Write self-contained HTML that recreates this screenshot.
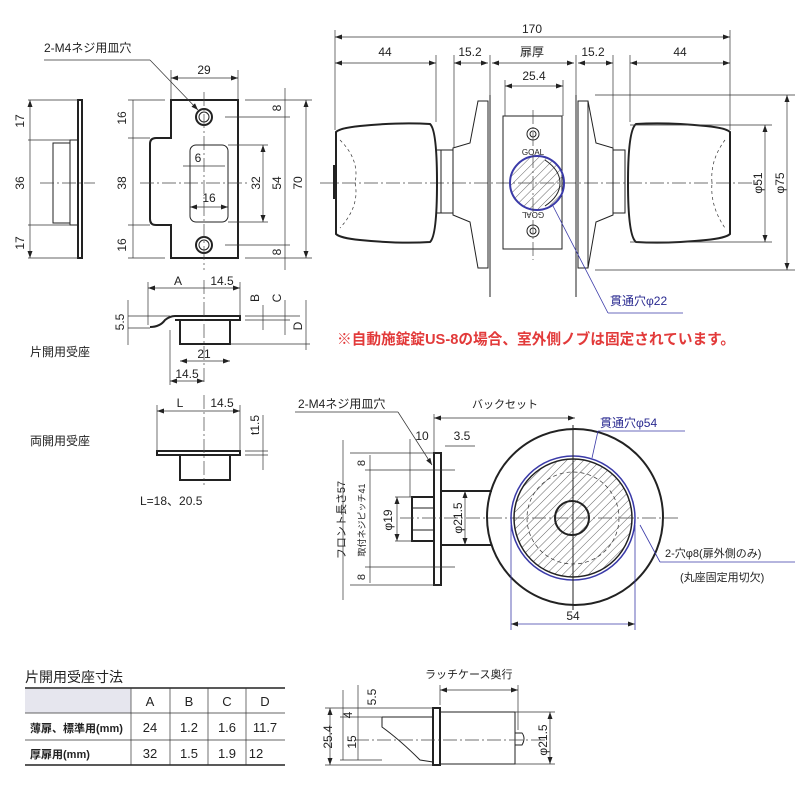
<!DOCTYPE html>
<html><head><meta charset="utf-8"><style>
html,body{margin:0;padding:0;background:#fff}
svg{display:block}
text{font-family:"Liberation Sans","Noto Sans CJK JP",sans-serif;fill:#222}
.l{stroke:#222;stroke-width:1;fill:none}
.t{stroke:#222;stroke-width:2;fill:none}
.c{stroke:#444;stroke-width:.7;fill:none;stroke-dasharray:14 3 2 3}
.d{stroke:#333;stroke-width:.7;fill:none}
.b{stroke:#3a3aa8;stroke-width:1.5;fill:none}
</style></head><body>
<svg width="800" height="800" viewBox="0 0 800 800" xmlns="http://www.w3.org/2000/svg">
<defs>
<marker id="a" markerUnits="userSpaceOnUse" markerWidth="7" markerHeight="5" refX="7" refY="2.5" orient="auto-start-reverse"><path d="M0,0 L7,2.5 L0,5" fill="#222"/></marker>
<pattern id="h" width="6" height="6" patternUnits="userSpaceOnUse" patternTransform="rotate(45)"><line x1="0" y1="0" x2="0" y2="6" stroke="#666" stroke-width="1"/></pattern>
</defs>

<!-- side plate top left -->
<g>
<rect x="78" y="100" width="4" height="158" class="t"/>
<rect x="70" y="140" width="8" height="85" class="l"/>
<rect x="53" y="143" width="17" height="80" class="l"/>
<line x1="28" y1="100" x2="78" y2="100" class="d"/><line x1="28" y1="140" x2="70" y2="140" class="d"/>
<line x1="28" y1="225" x2="70" y2="225" class="d"/><line x1="28" y1="258" x2="78" y2="258" class="d"/>
<line x1="30" y1="100" x2="30" y2="258" class="d" marker-start="url(#a)" marker-end="url(#a)"/>
<line x1="40" y1="183" x2="95" y2="183" class="c"/>
<text transform="translate(24,121) rotate(-90)" font-size="12" text-anchor="middle">17</text>
<text transform="translate(24,183) rotate(-90)" font-size="12" text-anchor="middle">36</text>
<text transform="translate(24,243) rotate(-90)" font-size="12" text-anchor="middle">17</text>
</g>

<!-- strike plate front -->
<g>
<path d="M171,100 H238 V258 H171 V225 H156 Q150,225 150,219 V144 Q150,138 156,138 H171 Z" class="t"/>
<rect x="190" y="145" width="38" height="77" rx="6" class="l"/>
<circle cx="204" cy="117" r="8" class="t"/><circle cx="204" cy="117" r="5" class="l"/>
<circle cx="204" cy="245" r="8" class="t"/><circle cx="204" cy="245" r="5" class="l"/>
<line x1="204" y1="92" x2="204" y2="270" class="c"/>
<line x1="140" y1="183" x2="250" y2="183" class="c"/>
<line x1="171" y1="70" x2="171" y2="100" class="d"/><line x1="238" y1="70" x2="238" y2="100" class="d"/>
<line x1="171" y1="78" x2="238" y2="78" class="d" marker-start="url(#a)" marker-end="url(#a)"/>
<text x="204" y="74" font-size="12" text-anchor="middle">29</text>
<text x="44" y="52" font-size="12">2-M4ネジ用皿穴</text>
<line x1="44" y1="60" x2="150" y2="60" class="d"/><line x1="150" y1="60" x2="198" y2="110" class="d" marker-end="url(#a)"/>
<line x1="128" y1="100" x2="165" y2="100" class="d"/><line x1="128" y1="138" x2="150" y2="138" class="d"/>
<line x1="128" y1="225" x2="150" y2="225" class="d"/><line x1="128" y1="258" x2="165" y2="258" class="d"/>
<line x1="133" y1="100" x2="133" y2="258" class="d"/>
<text transform="translate(126,118) rotate(-90)" font-size="12" text-anchor="middle">16</text>
<text transform="translate(126,183) rotate(-90)" font-size="12" text-anchor="middle">38</text>
<text transform="translate(126,245) rotate(-90)" font-size="12" text-anchor="middle">16</text>
<line x1="183" y1="166" x2="225" y2="166" class="d"/>
<text x="198" y="162" font-size="12" text-anchor="middle">6</text>
<line x1="190" y1="207" x2="228" y2="207" class="d" marker-start="url(#a)" marker-end="url(#a)"/>
<text x="209" y="202" font-size="12" text-anchor="middle">16</text>
<line x1="228" y1="145" x2="268" y2="145" class="d"/><line x1="228" y1="222" x2="268" y2="222" class="d"/>
<line x1="263" y1="145" x2="263" y2="222" class="d" marker-start="url(#a)" marker-end="url(#a)"/>
<text transform="translate(260,183) rotate(-90)" font-size="12" text-anchor="middle">32</text>
<line x1="225" y1="117" x2="290" y2="117" class="d"/><line x1="225" y1="245" x2="290" y2="245" class="d"/>
<line x1="245" y1="100" x2="312" y2="100" class="d"/><line x1="245" y1="258" x2="312" y2="258" class="d"/>
<line x1="285" y1="88" x2="285" y2="270" class="d"/>
<line x1="306" y1="100" x2="306" y2="258" class="d" marker-start="url(#a)" marker-end="url(#a)"/>
<text transform="translate(281,108) rotate(-90)" font-size="12" text-anchor="middle">8</text>
<text transform="translate(281,183) rotate(-90)" font-size="12" text-anchor="middle">54</text>
<text transform="translate(281,252) rotate(-90)" font-size="12" text-anchor="middle">8</text>
<text transform="translate(302,183) rotate(-90)" font-size="12" text-anchor="middle">70</text>
</g>

<!-- knob set top -->
<g>
<line x1="320" y1="183" x2="760" y2="183" class="c"/>
<path d="M336,132 Q340,128 360,126 Q400,122 430,124 Q437,130 437,183 Q437,236 430,242 Q400,244 360,240 Q340,238 336,234 Z" class="t"/>
<rect x="333" y="165" width="3" height="34" fill="#222"/>
<path d="M340,140 Q360,160 355,183 Q360,206 340,228" class="d" stroke-dasharray="3 3"/>
<rect x="441" y="150" width="12" height="63" class="l"/><line x1="437" y1="150" x2="441" y2="150" class="l"/><line x1="437" y1="213" x2="441" y2="213" class="l"/>
<path d="M453,148 L470,143 L478,101 H488 V268 H478 L470,222 L453,215 Z" class="l"/>
<line x1="490" y1="95" x2="490" y2="297" class="l"/>
<line x1="576" y1="95" x2="576" y2="297" class="l"/>
<rect x="503" y="116" width="59" height="133" class="l"/>
<circle cx="533" cy="134" r="6" class="l"/><circle cx="533" cy="134" r="3" class="l"/>
<circle cx="533" cy="231" r="6" class="l"/><circle cx="533" cy="231" r="3" class="l"/>
<text x="533" y="155" font-size="8" text-anchor="middle">GOAL</text>
<text x="533" y="218" font-size="8" text-anchor="middle" transform="rotate(180,533,215)">GOAL</text>
<circle cx="537" cy="183" r="27" fill="url(#h)" stroke="#3a3aa8" stroke-width="2"/>
<path d="M545,160 Q560,170 560,183 Q560,196 545,206" class="l"/>
<line x1="533" y1="110" x2="533" y2="260" class="c"/>
<rect x="578" y="101" width="10" height="167" class="l"/>
<path d="M588,101 L596,143 L613,148 V215 L596,222 L588,268" class="l"/>
<rect x="613" y="150" width="12" height="63" class="l"/>
<path d="M730,132 Q726,128 706,126 Q666,122 636,124 Q628,130 628,183 Q628,236 636,242 Q666,244 706,240 Q726,238 730,234 Z" class="t"/>
<path d="M725,140 Q710,160 712,183 Q710,206 725,228" class="d" stroke-dasharray="3 3"/>
<line x1="335" y1="30" x2="335" y2="130" class="d"/><line x1="730" y1="30" x2="730" y2="130" class="d"/>
<line x1="335" y1="37" x2="730" y2="37" class="d" marker-start="url(#a)" marker-end="url(#a)"/>
<text x="532" y="33" font-size="12" text-anchor="middle">170</text>
<line x1="436" y1="55" x2="436" y2="122" class="d"/><line x1="454" y1="55" x2="454" y2="148" class="d"/>
<line x1="613" y1="55" x2="613" y2="148" class="d"/><line x1="630" y1="55" x2="630" y2="122" class="d"/>
<line x1="490" y1="55" x2="490" y2="95" class="d"/><line x1="576" y1="55" x2="576" y2="95" class="d"/>
<line x1="335" y1="63" x2="436" y2="63" class="d" marker-start="url(#a)" marker-end="url(#a)"/>
<line x1="454" y1="63" x2="488" y2="63" class="d" marker-start="url(#a)" marker-end="url(#a)"/>
<line x1="492" y1="63" x2="574" y2="63" class="d" marker-start="url(#a)" marker-end="url(#a)"/>
<line x1="578" y1="63" x2="613" y2="63" class="d" marker-start="url(#a)" marker-end="url(#a)"/>
<line x1="630" y1="63" x2="730" y2="63" class="d" marker-start="url(#a)" marker-end="url(#a)"/>
<text x="385" y="56" font-size="12" text-anchor="middle">44</text>
<text x="470" y="56" font-size="12" text-anchor="middle">15.2</text>
<text x="532" y="56" font-size="12" text-anchor="middle">扉厚</text>
<text x="593" y="56" font-size="12" text-anchor="middle">15.2</text>
<text x="680" y="56" font-size="12" text-anchor="middle">44</text>
<line x1="505" y1="80" x2="505" y2="116" class="d"/><line x1="563" y1="80" x2="563" y2="116" class="d"/>
<line x1="505" y1="86" x2="563" y2="86" class="d" marker-start="url(#a)" marker-end="url(#a)"/>
<text x="534" y="80" font-size="12" text-anchor="middle">25.4</text>
<line x1="595" y1="95" x2="795" y2="95" class="d"/><line x1="595" y1="270" x2="795" y2="270" class="d"/>
<line x1="630" y1="125" x2="772" y2="125" class="d"/><line x1="630" y1="242" x2="772" y2="242" class="d"/>
<line x1="765" y1="125" x2="765" y2="242" class="d" marker-start="url(#a)" marker-end="url(#a)"/>
<line x1="787" y1="95" x2="787" y2="270" class="d" marker-start="url(#a)" marker-end="url(#a)"/>
<text transform="translate(762,183) rotate(-90)" font-size="12" text-anchor="middle">φ51</text>
<text transform="translate(784,183) rotate(-90)" font-size="12" text-anchor="middle">φ75</text>
<line x1="553" y1="206" x2="608" y2="313" stroke="#3a3aa8" stroke-width=".8"/>
<line x1="608" y1="313" x2="683" y2="313" stroke="#3a3aa8" stroke-width=".8"/>
<text x="610" y="305" font-size="12" style="fill:#2a2a90">貫通穴φ22</text>
<text x="337" y="344" font-size="15" font-weight="bold" style="fill:#e23a3a" textLength="398" lengthAdjust="spacingAndGlyphs">※自動施錠錠US-8の場合、室外側ノブは固定されています。</text>
</g>

<!-- strike side views -->
<g>
<path d="M150,327 Q160,327 165,320 Q170,316 175,316 H240 V320 H175" class="t"/>
<rect x="180" y="320" width="50" height="24" class="t"/>
<line x1="204" y1="280" x2="204" y2="385" class="c"/>
<line x1="148" y1="282" x2="148" y2="325" class="d"/><line x1="240" y1="282" x2="240" y2="316" class="d"/>
<line x1="148" y1="288" x2="240" y2="288" class="d" marker-start="url(#a)" marker-end="url(#a)"/>
<text x="178" y="285" font-size="12" text-anchor="middle">A</text>
<text x="222" y="285" font-size="12" text-anchor="middle">14.5</text>
<line x1="128" y1="316" x2="170" y2="316" class="d"/><line x1="128" y1="328" x2="150" y2="328" class="d"/>
<line x1="128" y1="300" x2="128" y2="345" class="d"/>
<text transform="translate(124,322) rotate(-90)" font-size="12" text-anchor="middle">5.5</text>
<line x1="245" y1="316" x2="300" y2="316" class="d"/><line x1="245" y1="320" x2="290" y2="320" class="d"/>
<line x1="230" y1="344" x2="310" y2="344" class="d"/>
<line x1="263" y1="305" x2="263" y2="330" class="d"/><line x1="285" y1="300" x2="285" y2="335" class="d"/><line x1="306" y1="300" x2="306" y2="350" class="d"/>
<text transform="translate(259,298) rotate(-90)" font-size="12" text-anchor="middle">B</text>
<text transform="translate(281,298) rotate(-90)" font-size="12" text-anchor="middle">C</text>
<text transform="translate(302,326) rotate(-90)" font-size="12" text-anchor="middle">D</text>
<line x1="180" y1="361" x2="230" y2="361" class="d" marker-start="url(#a)" marker-end="url(#a)"/>
<text x="204" y="358" font-size="12" text-anchor="middle">21</text>
<line x1="170" y1="330" x2="170" y2="385" class="d"/>
<line x1="170" y1="381" x2="204" y2="381" class="d" marker-start="url(#a)" marker-end="url(#a)"/>
<text x="187" y="378" font-size="12" text-anchor="middle">14.5</text>
<text x="30" y="356" font-size="12">片開用受座</text>

<rect x="157" y="451" width="83" height="4" class="t"/>
<rect x="180" y="455" width="50" height="25" class="t"/>
<line x1="204" y1="395" x2="204" y2="485" class="c"/>
<line x1="157" y1="405" x2="157" y2="451" class="d"/><line x1="240" y1="405" x2="240" y2="451" class="d"/>
<line x1="157" y1="411" x2="240" y2="411" class="d" marker-start="url(#a)" marker-end="url(#a)"/>
<text x="180" y="407" font-size="12" text-anchor="middle">L</text>
<text x="222" y="407" font-size="12" text-anchor="middle">14.5</text>
<line x1="245" y1="451" x2="268" y2="451" class="d"/><line x1="245" y1="455" x2="268" y2="455" class="d"/>
<line x1="263" y1="415" x2="263" y2="470" class="d"/>
<text transform="translate(259,425) rotate(-90)" font-size="12" text-anchor="middle">t1.5</text>
<text x="30" y="445" font-size="12">両開用受座</text>
<text x="140" y="505" font-size="12">L=18、20.5</text>
</g>

<!-- bottom front/round view -->
<g>
<text x="298" y="408" font-size="12">2-M4ネジ用皿穴</text>
<line x1="295" y1="412" x2="398" y2="412" class="d"/><line x1="398" y1="412" x2="432" y2="465" class="d" marker-end="url(#a)"/>
<text x="472" y="408" font-size="11">バックセット</text>
<line x1="434" y1="418" x2="575" y2="418" class="d" marker-start="url(#a)" marker-end="url(#a)"/>
<line x1="434" y1="414" x2="434" y2="453" class="d"/>
<rect x="434" y="453" width="7" height="132" class="t" fill="#bbb"/>
<rect x="412" y="497" width="22" height="44" class="t"/>
<line x1="412" y1="508" x2="434" y2="508" class="l"/><line x1="412" y1="530" x2="434" y2="530" class="l"/>
<line x1="441" y1="491" x2="492" y2="491" class="t"/><line x1="441" y1="545" x2="492" y2="545" class="t"/>
<line x1="410" y1="439" x2="410" y2="497" class="d"/>
<text x="422" y="440" font-size="12" text-anchor="middle">10</text>
<text x="462" y="440" font-size="12" text-anchor="middle">3.5</text>
<line x1="445" y1="446" x2="475" y2="446" class="d"/>
<line x1="350" y1="453" x2="440" y2="453" class="d"/><line x1="365" y1="470" x2="455" y2="470" class="d"/>
<line x1="365" y1="567" x2="455" y2="567" class="d"/><line x1="350" y1="585" x2="440" y2="585" class="d"/>
<line x1="343" y1="440" x2="343" y2="600" class="d"/>
<line x1="370" y1="455" x2="370" y2="583" class="d"/>
<text transform="translate(345,520) rotate(-90)" font-size="11" text-anchor="middle">フロント長さ57</text>
<text transform="translate(365,520) rotate(-90)" font-size="9" text-anchor="middle">取付ネジピッチ41</text>
<text transform="translate(365,463) rotate(-90)" font-size="11" text-anchor="middle">8</text>
<text transform="translate(365,577) rotate(-90)" font-size="11" text-anchor="middle">8</text>
<line x1="395" y1="497" x2="412" y2="497" class="d"/><line x1="395" y1="541" x2="412" y2="541" class="d"/>
<line x1="397" y1="497" x2="397" y2="541" class="d" marker-start="url(#a)" marker-end="url(#a)"/>
<text transform="translate(392,520) rotate(-90)" font-size="12" text-anchor="middle">φ19</text>
<line x1="465" y1="491" x2="465" y2="545" class="d" marker-start="url(#a)" marker-end="url(#a)"/>
<text transform="translate(462,518) rotate(-90)" font-size="12" text-anchor="middle">φ21.5</text>
<line x1="400" y1="518" x2="680" y2="518" class="c"/>
<circle cx="575" cy="517" r="88" class="t" stroke-width="1.5"/>
<circle cx="573" cy="518" r="62" class="b"/>
<circle cx="573" cy="518" r="59" fill="url(#h)" stroke="#222" stroke-width="1.5"/>
<circle cx="573" cy="518" r="46" class="d" stroke-dasharray="4 3"/>
<circle cx="572" cy="518" r="17" class="t" fill="#fff" fill-opacity=".6"/>
<line x1="573" y1="425" x2="573" y2="610" class="l"/>
<line x1="511" y1="525" x2="511" y2="630" stroke="#3a3aa8" stroke-width=".8"/><line x1="635" y1="525" x2="635" y2="630" stroke="#3a3aa8" stroke-width=".8"/>
<line x1="511" y1="624" x2="635" y2="624" stroke="#3a3aa8" stroke-width=".8" marker-start="url(#a)" marker-end="url(#a)"/>
<text x="573" y="620" font-size="12" text-anchor="middle">54</text>
<text x="600" y="427" font-size="12" style="fill:#2a2a90">貫通穴φ54</text>
<line x1="598" y1="431" x2="685" y2="431" stroke="#3a3aa8" stroke-width=".8"/>
<line x1="598" y1="431" x2="592" y2="458" stroke="#3a3aa8" stroke-width=".8"/>
<line x1="640" y1="525" x2="660" y2="562" stroke="#3a3aa8" stroke-width=".8"/>
<line x1="660" y1="562" x2="795" y2="562" stroke="#3a3aa8" stroke-width=".8"/>
<text x="665" y="557" font-size="11">2-穴φ8(扉外側のみ)</text>
<text x="680" y="581" font-size="11">(丸座固定用切欠)</text>
</g>

<!-- table -->
<g font-size="13">
<text x="25" y="682" font-size="14">片開用受座寸法</text>
<line x1="25" y1="688" x2="285" y2="688" stroke="#222" stroke-width="1.5"/>
<rect x="25" y="689" width="106" height="24" fill="#e6e6ee"/>
<line x1="25" y1="713" x2="285" y2="713" class="d"/>
<line x1="25" y1="740" x2="285" y2="740" class="d"/>
<line x1="25" y1="765" x2="285" y2="765" stroke="#222" stroke-width="1.5"/>
<line x1="131" y1="688" x2="131" y2="765" class="d"/><line x1="170" y1="688" x2="170" y2="765" class="d"/>
<line x1="208" y1="688" x2="208" y2="765" class="d"/><line x1="246" y1="688" x2="246" y2="765" class="d"/>
<g text-anchor="middle">
<text x="150" y="706">A</text><text x="189" y="706">B</text><text x="227" y="706">C</text><text x="265" y="706">D</text>
<text x="150" y="732">24</text><text x="189" y="732">1.2</text><text x="227" y="732">1.6</text><text x="265" y="732">11.7</text>
<text x="150" y="758">32</text><text x="189" y="758">1.5</text><text x="227" y="758">1.9</text><text x="256" y="758">12</text>
</g>
<text x="30" y="732" font-size="11" font-weight="bold">薄扉、標準用(mm)</text>
<text x="30" y="758" font-size="11" font-weight="bold">厚扉用(mm)</text>
</g>

<!-- bottom right latch side -->
<g>
<text x="425" y="678" font-size="11">ラッチケース奥行</text>
<line x1="440" y1="685" x2="440" y2="705" class="d"/><line x1="518" y1="685" x2="518" y2="730" class="d"/>
<line x1="440" y1="690" x2="518" y2="690" class="d" marker-start="url(#a)" marker-end="url(#a)"/>
<rect x="433" y="708" width="7" height="57" class="t" fill="#bbb"/>
<rect x="440" y="712" width="75" height="52" class="l"/>
<path d="M515,733 H522 Q526,738 522,745 H515" class="l"/>
<path d="M382,717 H433 M382,717 V727 Q400,740 420,760 L433,762" class="l"/>
<line x1="355" y1="740" x2="545" y2="740" class="c"/>
<line x1="325" y1="708" x2="433" y2="708" class="d"/><line x1="325" y1="765" x2="433" y2="765" class="d"/>
<line x1="330" y1="708" x2="330" y2="765" class="d" marker-start="url(#a)" marker-end="url(#a)"/>
<text transform="translate(332,737) rotate(-90)" font-size="12" text-anchor="middle">25.4</text>
<line x1="340" y1="717" x2="382" y2="717" class="d"/><line x1="340" y1="760" x2="382" y2="760" class="d"/>
<line x1="343" y1="690" x2="343" y2="760" class="d"/>
<line x1="358" y1="685" x2="358" y2="760" class="d"/>
<text transform="translate(352,715) rotate(-90)" font-size="12" text-anchor="middle">4</text>
<text transform="translate(376,697) rotate(-90)" font-size="12" text-anchor="middle">5.5</text>
<text transform="translate(356,742) rotate(-90)" font-size="12" text-anchor="middle">15</text>
<line x1="515" y1="712" x2="555" y2="712" class="d"/><line x1="515" y1="764" x2="555" y2="764" class="d"/>
<line x1="550" y1="712" x2="550" y2="764" class="d" marker-start="url(#a)" marker-end="url(#a)"/>
<text transform="translate(547,740) rotate(-90)" font-size="12" text-anchor="middle">φ21.5</text>
</g>
</svg>
</body></html>
